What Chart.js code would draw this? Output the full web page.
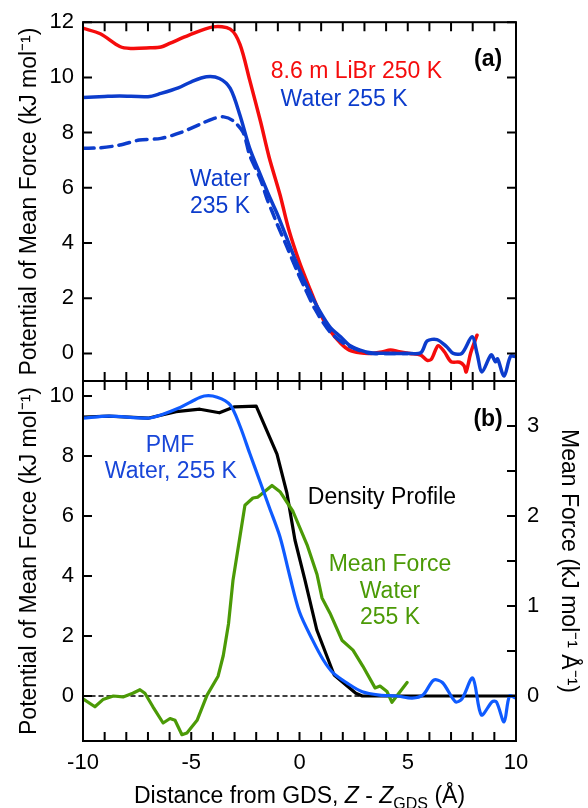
<!DOCTYPE html>
<html>
<head>
<meta charset="utf-8">
<script src="https://cdn.jsdelivr.net/npm/chart.js@4"></script>
<style>
html, body { margin: 0; padding: 0; background: #fff; }
#wrap { position: relative; width: 588px; height: 808px; }
#wrap canvas { position: absolute; left: 0; top: 0; }
</style>
</head>
<body>
<div id="wrap">
  <canvas id="chartA" width="588" height="808"></canvas>
  <canvas id="chartB" width="588" height="808"></canvas>
</div>
<script>
// ---- panel (a): PMF, kJ/mol vs Z - Z_GDS (A)
const zLiBr = [-10, -9.2, -8.3, -7.8, -6.9, -6.4, -6.0, -5.1, -4.0, -3.2, -2.75, -2.3, -1.8, -1.4, -0.9, -0.5, 0, 0.5, 0.95, 1.4, 1.9, 2.3, 2.8, 3.3, 3.8, 4.2, 4.6, 5.1, 5.6, 5.9, 6.1, 6.4, 6.7, 7.0, 7.4, 7.6, 7.7, 7.9, 8.2];
const pmfLiBr = [11.78, 11.58, 11.12, 11.05, 11.07, 11.1, 11.23, 11.53, 11.83, 11.75, 11.2, 9.9, 8.4, 7.1, 5.75, 4.5, 3.3, 2.3, 1.45, 0.84, 0.37, 0.12, 0.02, 0, 0.05, 0.12, 0.06, 0, -0.06, -0.25, -0.2, 0.28, 0.05, -0.3, -0.32, -0.45, -0.67, 0.0, 0.66];

const zWater = [-10, -9, -8.3, -7, -6.4, -5.6, -5, -4.3, -3.7, -3.2, -2.75, -2.3, -1.8, -1.36, -1, -0.5, 0, 0.5, 0.95, 1.4, 1.9, 2.3, 2.8, 3.3, 4, 5, 5.6, 5.9, 6.35, 6.8, 7.1, 7.5, 7.97, 8.2, 8.43, 8.85, 9.05, 9.15, 9.45, 9.75, 10];
const pmfWater = [9.27, 9.31, 9.33, 9.3, 9.42, 9.62, 9.84, 10.02, 9.96, 9.6, 8.63, 7.43, 6.46, 5.63, 5.0, 4.0, 3.02, 2.18, 1.51, 0.96, 0.6, 0.3, 0.12, 0.02, 0, 0, 0.02, 0.45, 0.5, 0.24, 0, 0, 0.6, 0.0, -0.67, -0.05, -0.3, -0.2, -0.82, -0.1, -0.12];

const z235 = [-10, -9.2, -8.3, -7.4, -6.4, -5.5, -4.6, -4.0, -3.5, -3.07, -2.6, -2.3, -1.8, -1.5, -1.27, -1.04, -0.58, -0.12, 0.2, 0.72, 1.41, 2.19, 3.26, 4, 5];
const pmf235 = [7.43, 7.45, 7.55, 7.73, 7.79, 8.0, 8.3, 8.5, 8.57, 8.43, 8.0, 7.18, 6.3, 5.6, 5.15, 4.7, 3.86, 3.0, 2.45, 1.6, 0.78, 0.3, 0, 0, 0];

// ---- panel (b)
const zPMF = [-10, -8.8, -7.0, -6.4, -5.6, -5.0, -4.4, -3.8, -3.2, -2.75, -2.3, -1.8, -1.4, -0.9, -0.45, 0, 0.6, 1.1, 1.55, 2.2, 2.9, 3.7, 4.5, 5.2, 5.7, 6.2, 6.6, 7.2, 7.5, 8.0, 8.4, 8.9, 9.1, 9.45, 9.7, 10];
const pmfB = [9.26, 9.33, 9.26, 9.37, 9.59, 9.81, 10.0, 9.96, 9.7, 9.0, 8.09, 7.1, 6.3, 5.3, 4.0, 2.8, 1.87, 1.2, 0.77, 0.43, 0.14, 0.03, 0, -0.07, 0.03, 0.53, 0.45, -0.19, -0.1, 0.6, -0.63, -0.19, -0.2, -0.86, 0, -0.07];

const zDens = [-10, -8.8, -7.0, -5.7, -4.6, -3.7, -3.0, -2.0, -1.04, -0.58, -0.21, 0.25, 0.8, 1.6, 2.6, 2.9, 10];
const density = [9.3, 9.33, 9.26, 9.48, 9.56, 9.44, 9.64, 9.66, 8.06, 6.76, 5.2, 3.87, 2.2, 0.7, 0.09, 0, 0];

const zForce = [-10, -9.45, -9.08, -8.6, -8.15, -7.7, -7.37, -7.14, -6.77, -6.3, -5.98, -5.75, -5.43, -5.2, -4.73, -4.27, -3.76, -3.52, -3.28, -3.07, -2.52, -2.15, -1.92, -1.27, -0.9, -0.3, 0.35, 0.81, 1.04, 1.41, 1.96, 2.47, 2.93, 3.49, 3.72, 4.04, 4.27, 4.97];
const meanForce = [-0.03, -0.12, -0.04, 0, -0.01, 0.03, 0.07, 0.03, -0.12, -0.3, -0.25, -0.27, -0.43, -0.41, -0.27, 0.01, 0.22, 0.45, 0.8, 1.29, 2.12, 2.2, 2.21, 2.34, 2.27, 2.05, 1.68, 1.35, 1.09, 0.92, 0.62, 0.51, 0.33, 0.09, 0.11, 0.05, -0.07, 0.15];

const zZero = [-10, 10];
const zeroLine = [0, 0];

// tick labels
const xTicks = [-10, -5, 0, 5, 10];
const yTicksA = [0, 2, 4, 6, 8, 10, 12];
const yTicksB = [0, 2, 4, 6, 8, 10];
const forceTicks = [0, 1, 2, 3];
const forceMinor = [0, 0.5, 1, 1.5, 2, 2.5, 3];

const RED = '#f50c0c';
const BLUE = '#0c3ccc';
const BLUE2 = '#0f5bff';
const GREEN = '#4b9a06';
const FONT = '"Liberation Sans", Arial, Helvetica, sans-serif';

Chart.defaults.font.family = FONT;
Chart.defaults.color = '#000';

function pts(xs, ys) {
  return xs.map((x, i) => ({x: x, y: ys[i]}));
}

const TICK = 9;

// box round the plot, ticks pointing inwards, text notes in data units
const framePlugin = {
  id: 'frame',
  afterDatasetsDraw(chart, args, opts) {
    const {ctx, chartArea: a, scales} = chart;
    ctx.save();
    ctx.strokeStyle = '#000';
    ctx.lineWidth = 2;
    ctx.lineCap = 'butt';
    ctx.strokeRect(a.left, a.top, a.right - a.left, a.bottom - a.top);
    ctx.beginPath();
    for (let v = -10; v <= 10; v++) {
      const px = scales.x.getPixelForValue(v);
      ctx.moveTo(px, a.top); ctx.lineTo(px, a.top + TICK);
      ctx.moveTo(px, a.bottom); ctx.lineTo(px, a.bottom - TICK);
    }
    opts.left.forEach(v => {
      const py = scales.y.getPixelForValue(v);
      ctx.moveTo(a.left, py); ctx.lineTo(a.left + TICK, py);
    });
    const rs = scales[opts.rightScale];
    opts.right.forEach(v => {
      const py = rs.getPixelForValue(v);
      ctx.moveTo(a.right, py); ctx.lineTo(a.right - TICK, py);
    });
    ctx.stroke();

    ctx.textAlign = 'center';
    ctx.textBaseline = 'middle';
    opts.notes.forEach(n => {
      ctx.fillStyle = n.color;
      ctx.font = (n.bold ? 'bold ' : '') + '23px ' + FONT;
      ctx.fillText(n.text, scales.x.getPixelForValue(n.x), scales.y.getPixelForValue(n.y));
    });
    ctx.restore();
  }
};

// x-axis title with italic Z and subscript GDS
const xTitlePlugin = {
  id: 'xTitle',
  afterDraw(chart) {
    const {ctx, chartArea: a} = chart;
    const parts = [
      {t: 'Distance from GDS, ', f: '23px ' + FONT, dy: 0},
      {t: 'Z', f: 'italic 23px ' + FONT, dy: 0},
      {t: ' - ', f: '23px ' + FONT, dy: 0},
      {t: 'Z', f: 'italic 23px ' + FONT, dy: 0},
      {t: 'GDS', f: '16px ' + FONT, dy: 6},
      {t: ' (Å)', f: '23px ' + FONT, dy: 0}
    ];
    ctx.save();
    let w = 0;
    parts.forEach(p => { ctx.font = p.f; p.w = ctx.measureText(p.t).width; w += p.w; });
    let x = (a.left + a.right) / 2 - w / 2;
    const y = 803;
    ctx.fillStyle = '#000';
    ctx.textAlign = 'left';
    ctx.textBaseline = 'alphabetic';
    parts.forEach(p => { ctx.font = p.f; ctx.fillText(p.t, x, y + p.dy); x += p.w; });
    ctx.restore();
  }
};

const common = {
  responsive: false,
  animation: false,
  events: [],
  elements: {
    point: {radius: 0},
    line: {fill: false, borderCapStyle: 'round', borderJoinStyle: 'round'}
  }
};

function yScale(min, max, ticks, titleText) {
  return {
    position: 'left', min: min, max: max,
    grid: {display: false, drawTicks: false},
    border: {display: false},
    afterBuildTicks: s => { s.ticks = ticks.map(v => ({value: v})); },
    afterFit: s => { s.width = 83; },
    ticks: {padding: 9, font: {size: 22}, color: '#000'},
    title: {display: true, text: titleText, font: {size: 23}, color: '#000', padding: {top: 16, bottom: 0}}
  };
}

new Chart(document.getElementById('chartA'), {
  type: 'line',
  data: {
    datasets: [
      {label: 'Water 255 K', data: pts(zWater, pmfWater), borderColor: BLUE, borderWidth: 3.5, tension: 0.3},
      {label: 'Water 235 K', data: pts(z235, pmf235), borderColor: BLUE, borderWidth: 3.5, borderDash: [11, 7], tension: 0.3},
      {label: '8.6 m LiBr 250 K', data: pts(zLiBr, pmfLiBr), borderColor: RED, borderWidth: 3.5, tension: 0.3}
    ]
  },
  options: Object.assign({}, common, {
    layout: {padding: {top: 22, right: 72, bottom: 427, left: 0}},
    plugins: {
      legend: {display: false},
      tooltip: {enabled: false},
      frame: {
        left: yTicksA, right: yTicksA, rightScale: 'y',
        notes: [
          {text: '8.6 m LiBr 250 K', x: 2.63, y: 10.19, color: RED},
          {text: 'Water 255 K', x: 2.06, y: 9.18, color: BLUE},
          {text: 'Water', x: -3.67, y: 6.28, color: BLUE},
          {text: '235 K', x: -3.67, y: 5.3, color: BLUE},
          {text: '(a)', x: 8.71, y: 10.63, color: '#000', bold: true}
        ]
      }
    },
    scales: {
      x: {type: 'linear', min: -10, max: 10, display: false},
      y: yScale(-1, 12, yTicksA, 'Potential of Mean Force (kJ mol⁻¹)')
    }
  }),
  plugins: [framePlugin]
});

new Chart(document.getElementById('chartB'), {
  type: 'line',
  data: {
    datasets: [
      {label: 'PMF Water, 255 K', data: pts(zPMF, pmfB), borderColor: BLUE2, borderWidth: 3.2, tension: 0.3},
      {label: 'Mean Force Water 255 K', data: pts(zForce, meanForce), yAxisID: 'yR', borderColor: GREEN, borderWidth: 3.2, tension: 0},
      {label: 'Density Profile', data: pts(zDens, density), borderColor: '#000', borderWidth: 3.2, tension: 0},
      {label: 'zero', data: pts(zZero, zeroLine), borderColor: '#000', borderWidth: 1.5, borderDash: [4, 4], tension: 0}
    ]
  },
  options: Object.assign({}, common, {
    layout: {padding: {top: 381, right: 0, bottom: 0, left: 0}},
    plugins: {
      legend: {display: false},
      tooltip: {enabled: false},
      frame: {
        left: yTicksB, right: forceMinor, rightScale: 'yR',
        notes: [
          {text: 'PMF', x: -5.98, y: 8.33, color: '#1846d8'},
          {text: 'Water, 255 K', x: -5.94, y: 7.47, color: '#1846d8'},
          {text: 'Density Profile', x: 3.81, y: 6.6, color: '#000'},
          {text: 'Mean Force', x: 4.18, y: 4.37, color: GREEN},
          {text: 'Water', x: 4.18, y: 3.47, color: GREEN},
          {text: '255 K', x: 4.18, y: 2.6, color: GREEN},
          {text: '(b)', x: 8.71, y: 9.2, color: '#000', bold: true}
        ]
      }
    },
    scales: {
      x: {
        type: 'linear', min: -10, max: 10, position: 'bottom',
        grid: {display: false, drawTicks: false},
        border: {display: false},
        afterBuildTicks: s => { s.ticks = xTicks.map(v => ({value: v})); },
        afterFit: s => { s.height = 67; },
        ticks: {padding: 9, font: {size: 22}, color: '#000', maxRotation: 0}
      },
      y: yScale(-1.5, 10.5, yTicksB, 'Potential of Mean Force (kJ mol⁻¹)'),
      yR: {
        position: 'right', min: -0.5, max: 3.5,
        grid: {display: false, drawTicks: false},
        border: {display: false},
        afterBuildTicks: s => { s.ticks = forceTicks.map(v => ({value: v})); },
        afterFit: s => { s.width = 72; },
        ticks: {padding: 11, font: {size: 22}, color: '#000'},
        title: {display: true, text: 'Mean Force (kJ mol⁻¹ Å⁻¹)', font: {size: 23}, color: '#000', padding: {top: 6, bottom: 0}}
      }
    }
  }),
  plugins: [framePlugin, xTitlePlugin]
});
</script>
</body>
</html>
